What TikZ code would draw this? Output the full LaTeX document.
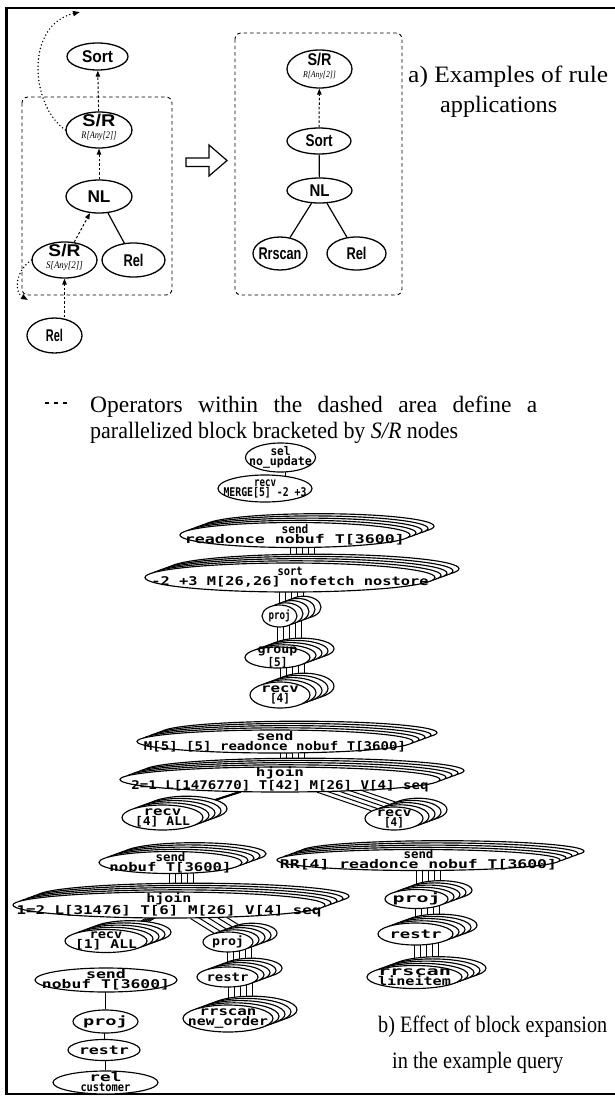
\documentclass[tikz,border=0pt]{standalone}
\usepackage{fontspec}
\usepackage{graphicx}
\usetikzlibrary{shapes.geometric,arrows.meta,backgrounds}
\setmainfont{Liberation Serif}
\newfontfamily\hsans{Liberation Sans}
\newfontfamily\hserif{Liberation Serif}
\newfontfamily\planfont{DejaVu Sans Mono}

% set a line of text to a given width, keeping its height
\newcommand\fitw[2]{\resizebox{#1pt}{\height}{#2}}
% two-line operator label
\newcommand\plab[4]{\fitw{#1}{#2}\\\fitw{#3}{#4}}
% offset of the parallel copies of an operator
\def\sdx{6}
\def\sdy{2.2}

\tikzset{
  tell/.style={ellipse, draw, line width=1.3pt, fill=white, inner sep=0pt},
  ttxt/.style={inner sep=0pt, align=center, font=\hsans\bfseries\fontsize{17}{13}\selectfont},
  pell/.style={ellipse, draw, line width=1.15pt, fill=white, inner sep=0pt},
  ptxt/.style={inner sep=0pt, align=center, font=\planfont\bfseries\fontsize{12}{10}\selectfont},
  darr/.style={line width=1pt, dash pattern=on 2.5pt off 2pt, -{Triangle[length=6pt,width=4.5pt]}},
  dotarr/.style={line width=1.6pt, line cap=round, dash pattern=on 0pt off 3.6pt, -{Triangle[length=7pt,width=5pt]}},
  blockbox/.style={line width=0.9pt, dash pattern=on 3.5pt off 3pt, rounded corners=6pt},
  tlink/.style={line width=1.2pt},
  plinkst/.style={line width=1pt},
  captxt/.style={inner sep=0pt, anchor=base west, font=\hserif\fontsize{23.5}{27}\selectfont},
}

% top-level operator node of the example tree
\newcommand\tnode[7]{% name, x, y, width, height, text, text lift
  \node[tell, minimum width=#4pt, minimum height=#5pt] (#1) at (#2,#3) {};
  \node[ttxt] (#1-t) at ([yshift=#7pt]#1.center) {#6};
}
% operator with parallel copies stacked behind it
\newcommand\pstack[7]{% name, x, y, width, height, copies, text
  \foreach \k in {#6,...,1}{
    \node[pell, minimum width=#4pt, minimum height=#5pt] (#1-\k) at ({#2+\k*\sdx},{#3-\k*\sdy}) {};
  }
  \node[pell, minimum width=#4pt, minimum height=#5pt] (#1) at (#2,#3) {};
  \node[ptxt] (#1-t) at (#1.center) {#7};
}
% single operator
\newcommand\psingle[6]{% name, x, y, width, height, text
  \node[pell, minimum width=#4pt, minimum height=#5pt] (#1) at (#2,#3) {};
  \node[ptxt] (#1-t) at (#1.center) {#6};
}
% vertical links between corresponding copies
\newcommand\vlinks[3]{% parent, child, copies
  \draw[plinkst] (#2 |- #1) -- (#2);
  \foreach \k in {1,...,#3}{\draw[plinkst] (#2-\k |- #1-\k) -- (#2-\k);}
}
% slanted links between corresponding copies
\newcommand\slinks[3]{% parent, child, copies
  \draw[plinkst] (#1) -- (#2);
  \foreach \k in {1,...,#3}{\draw[plinkst] (#1-\k) -- (#2-\k);}
}

\begin{document}
\begin{tikzpicture}[x=1pt, y=-1pt]
\useasboundingbox (0,0) rectangle (615,1096);

% frame
\draw[line width=2.6pt] (615,8) -- (5,8);
\draw[line width=3.2pt] (6.5,6.7) -- (6.5,1094.5);
\draw[line width=2pt] (5,1093.5) -- (615,1093.5);

% ---------- a) rule application ----------
\draw[blockbox] (22,97) rectangle (172,295);
\draw[blockbox] (235,33) rectangle (402,295);

\tnode{sortA}{97.5}{56.5}{61}{27}{\fitw{31}{Sort}}{0}
\tnode{srA}{99}{130}{66}{36}{\fitw{33}{S/R}\\[-1pt]{\hserif\mdseries\itshape\fontsize{10}{10}\selectfont\fitw{35}{R[Any[2]]}}}{3}
\tnode{nlA}{99}{196.5}{66}{33}{\fitw{23}{NL}}{0}
\tnode{srB}{64.5}{260}{65}{36}{\fitw{32}{S/R}\\[-1pt]{\hserif\mdseries\itshape\fontsize{10}{10}\selectfont\fitw{37}{S[Any[2]]}}}{3}
\tnode{relA}{133.5}{260}{63}{34}{\fitw{20}{Rel}}{0}
\tnode{relB}{54.5}{335.5}{55}{35}{\fitw{17}{Rel}}{0}

\tnode{srC}{319.5}{69}{65}{38}{\fitw{24}{S/R}\\[-1pt]{\hserif\mdseries\itshape\fontsize{9}{9}\selectfont\fitw{33}{R[Any[2]]}}}{3}
\tnode{sortB}{319}{141}{64}{26}{\fitw{27}{Sort}}{0}
\tnode{nlB}{319.5}{190.5}{65}{25}{\fitw{20}{NL}}{0}
\tnode{rrscan}{280}{253.5}{54}{33}{\fitw{43}{Rrscan}}{0}
\tnode{relC}{356.5}{253.5}{59}{33}{\fitw{20}{Rel}}{0}

\draw[darr] (srA) -- (sortA);
\draw[darr] (nlA) -- (srA);
\draw[darr] (srB) -- (nlA);
\draw[tlink] (nlA) -- (relA);
\draw[darr] (srB |- relB.north) -- (srB.south);

\coordinate (upend) at (80,12);
\coordinate (downend) at (28,300);
\draw[dotarr] (srA.west) .. controls (30,105) and (25,25) .. (upend);
\draw[dotarr] (srB.west) .. controls (15,272) and (14,292) .. (downend);

\draw[darr] (sortB) -- (srC);
\draw[tlink] (sortB) -- (nlB);
\draw[tlink] (nlB) -- (rrscan);
\draw[tlink] (nlB) -- (relC);

% transformation arrow
\draw[line width=1.2pt, fill=white] (186,158) -- (209,158) -- (209,145) -- (227,160.5)
  -- (209,176) -- (209,166.5) -- (186,166.5) -- cycle;

\node[captxt] (capa1) at (408,82) {\fitw{200}{a) Examples of rule}};
\node[captxt] (capa2) at (440,112) {\fitw{117}{applications}};

% legend for the dashed area
\draw[line width=1.2pt, dash pattern=on 4pt off 5pt] (45,403) -- (68,403);
\node[captxt] (note1) at (90,412) {\makebox[447pt][s]{Operators within the dashed area define a}};
\node[captxt] (note2) at (90,438) {\fitw{368}{parallelized block bracketed by \textit{S/R} nodes}};

% ---------- b) expanded query plan ----------
\psingle{sel}{280.5}{457.5}{70}{29}{\plab{20}{sel}{63}{no\_update}}
\psingle{recvM}{265}{488.5}{94}{27}{\plab{22}{recv}{83}{MERGE[5] -2 +3}}
\pstack{sendA}{295}{535}{230}{25}{4}{\plab{27}{send}{220}{readonce nobuf T[3600]}}
\pstack{sort}{290}{577.5}{290}{29}{4}{\plab{25}{sort}{277}{-2 +3 M[26,26] nofetch nostore}}
\pstack{projA}{279.5}{616}{35}{22}{4}{\fitw{22}{proj}}
\pstack{group}{277.5}{657.5}{65}{21}{4}{\plab{40}{group}{20}{[5]}}
\pstack{recvA}{280}{695}{60}{26}{4}{\plab{38}{recv}{20}{[4]}}
\pstack{sendB}{275}{741.5}{276}{23}{4}{\plab{37}{send}{262}{M[5] [5] readonce nobuf T[3600]}}
\pstack{hjoinA}{280}{779.5}{320}{25}{4}{\plab{48}{hjoin}{297}{2=1 L[1476770] T[42] M[26] V[4] seq}}
\pstack{recvB}{162.5}{817.5}{81}{25}{4}{\plab{38}{recv}{55}{[4] ALL}}
\pstack{recvC}{394}{818.5}{58}{23}{4}{\plab{35}{recv}{20}{[4]}}
\pstack{sendC}{170.5}{862.5}{143}{22}{4}{\plab{30}{send}{122}{nobuf T[3600]}}
\pstack{sendD}{418.5}{860}{283}{21}{4}{\plab{30}{send}{277}{RR[4] readonce nobuf T[3600]}}
\pstack{hjoinB}{169}{905}{312}{26}{4}{\plab{45}{hjoin}{305}{1=2 L[31476] T[6] M[26] V[4] seq}}
\pstack{recvD}{106}{941}{82}{23}{4}{\plab{33}{recv}{62}{[1] ALL}}
\pstack{projB}{228}{942}{50}{20}{4}{\fitw{32}{proj}}
\pstack{restrB}{227.5}{977}{61}{20}{4}{\fitw{42}{restr}}
\pstack{rrscanB}{228}{1018.5}{90}{27}{4}{\plab{57}{rrscan}{80}{new\_order}}
\pstack{projC}{416.5}{899}{63}{19}{4}{\fitw{48}{proj}}
\pstack{restrC}{415.5}{934}{75}{22}{4}{\fitw{52}{restr}}
\pstack{rrscanC}{414.5}{977}{95}{23}{4}{\plab{73}{rrscan}{73}{lineitem}}
\psingle{sendE}{106}{980}{142}{24}{\plab{40}{send}{128}{nobuf T[3600]}}
\psingle{projD}{105.5}{1021.5}{65}{23}{\fitw{45}{proj}}
\psingle{restrD}{104}{1050}{72}{21}{\fitw{50}{restr}}
\psingle{rel}{105.5}{1082.5}{105}{23}{\plab{32}{rel}{50}{customer}}

\begin{pgfonlayer}{background}
  \draw[plinkst] (sel.290) -- (sel.290 |- recvM.center);
  \vlinks{sendA}{sort}{4}
  \vlinks{sort}{projA}{4}
  \vlinks{projA}{group}{4}
  \vlinks{group}{recvA}{4}
  \vlinks{sendB}{hjoinA}{4}
  \slinks{hjoinA}{recvB}{4}
  \slinks{hjoinA}{recvC}{4}
  \vlinks{sendC}{hjoinB}{4}
  \slinks{hjoinB}{recvD}{4}
  \slinks{hjoinB}{projB}{4}
  \vlinks{projB}{restrB}{4}
  \vlinks{restrB}{rrscanB}{4}
  \vlinks{sendD}{projC}{4}
  \vlinks{projC}{restrC}{4}
  \vlinks{restrC}{rrscanC}{4}
  \draw[plinkst] (projD |- sendE) -- (projD);
  \draw[plinkst] (restrD |- projD) -- (restrD);
  \draw[plinkst] (rel |- restrD) -- (rel);
\end{pgfonlayer}

\node[captxt] (capb1) at (378,1032) {\fitw{229}{b) Effect of block expansion}};
\node[captxt] (capb2) at (392,1068) {\fitw{171}{in the example query}};
\end{tikzpicture}
\end{document}
